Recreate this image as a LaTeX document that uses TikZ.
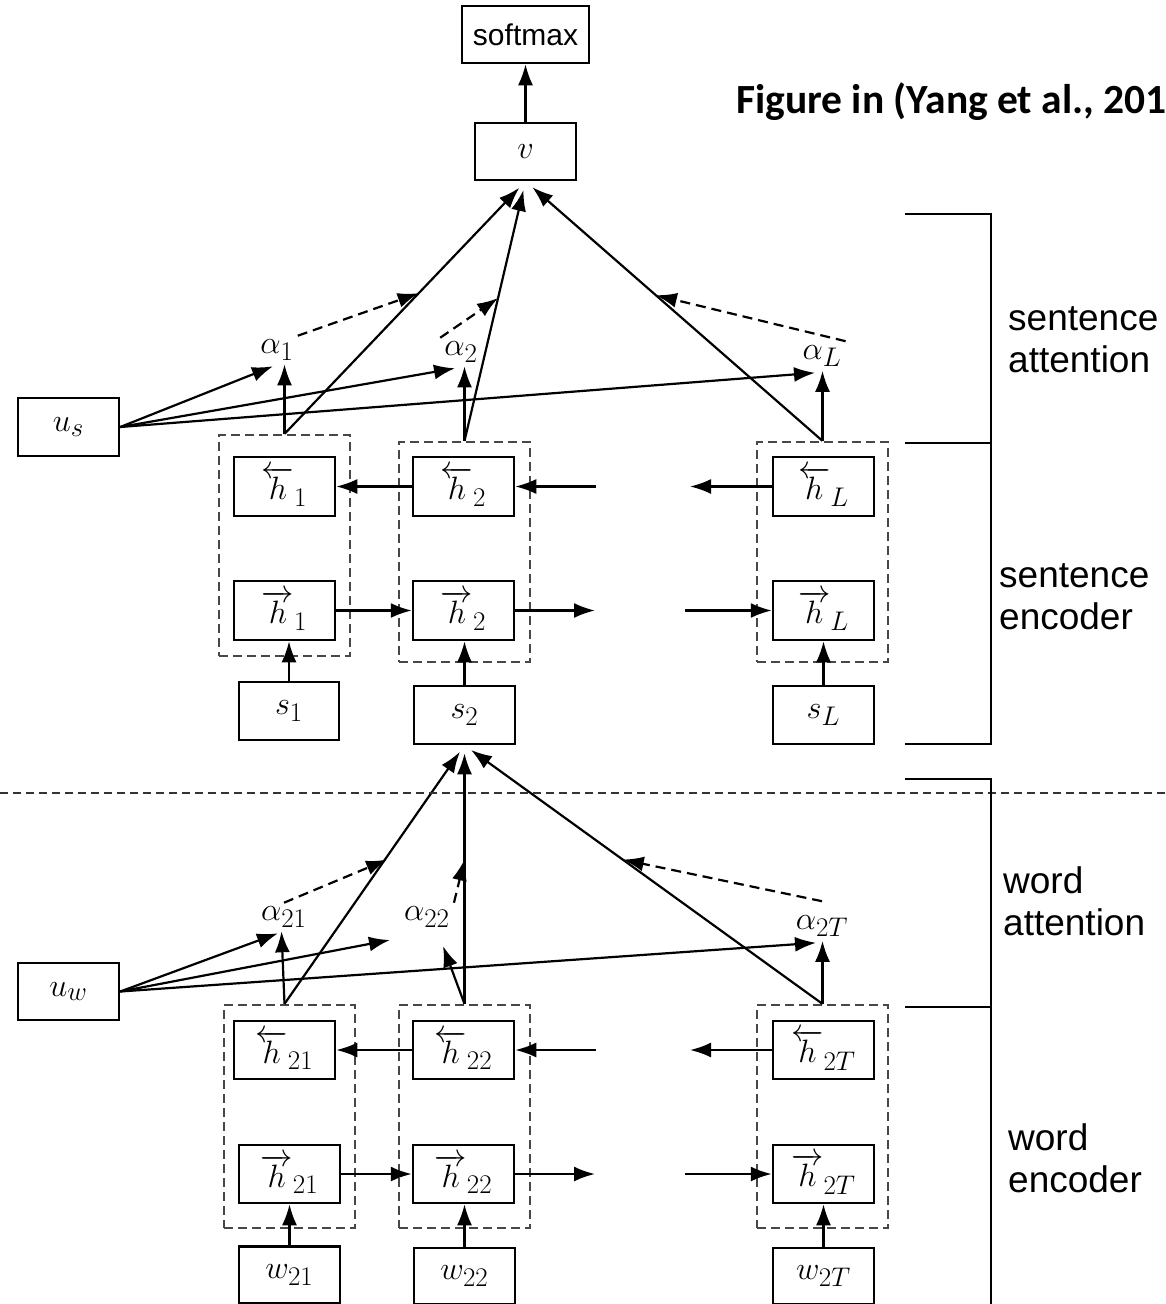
\RequirePackage{fix-cm}
\documentclass[tikz,border=0pt]{standalone}
\usepackage{graphicx}
\usepackage{fontspec}
\newfontfamily\lblfont{Liberation Sans}
\newfontfamily\ttlfont{Carlito}
\usetikzlibrary{arrows.meta,calc}
\newcommand\mth[1]{\scalebox{1.3}{\fontsize{24.88}{30}\selectfont$#1$}}
\begin{document}
\begin{tikzpicture}[x=1pt,y=-1pt,
  box/.style={draw, line width=2.5pt, minimum width=101pt, minimum height=58pt, inner sep=0pt},
  grp/.style={draw=black!72, dash pattern=on 9pt off 5pt, line width=2.2pt, minimum width=131pt, inner sep=0pt},
  arr/.style={-{Latex[length=21pt,width=15pt]}, line width=2.2pt},
  darr/.style={arr, dash pattern=on 10pt off 6pt},
  alab/.style={inner sep=4pt},
  lbl/.style={font=\lblfont\fontsize{37}{42}\selectfont, anchor=base west, inner sep=0pt},
  brk/.style={line width=1.8pt}
]
\useasboundingbox (0,0) rectangle (1165,1304);
\clip (0,0) rectangle (1165,1304);

% ---------- top ----------
\node[box, minimum width=127pt, minimum height=57pt, font=\lblfont\fontsize{30}{34}\selectfont] (sm) at (525.5,34.5) {softmax};
\node[box, minimum height=57pt] (v) at (525.5,151.5) {\mth{v}};
\node[anchor=base west, inner sep=0pt, font=\ttlfont\bfseries\fontsize{41.5}{48}\selectfont] (ttl) at (736,113) {Figure in (Yang et al., 201};
\draw[arr] (v.north) -- (sm.south);

% ---------- sentence level ----------
\node[box] (us) at (68.5,427) {\mth{u_s}};
\node[grp, minimum height=221pt] (d1) at (284.5,545.5) {};
\node[grp, minimum height=220pt] (d2) at (464.5,552) {};
\node[grp, minimum height=220pt] (dL) at (822.5,552) {};
\node[box, minimum height=59pt] (h1b) at (284.5,486.5) {\mth{\overleftarrow{h}_1}};
\node[box, minimum height=59pt] (h1f) at (284.5,610.5) {\mth{\overrightarrow{h}_1}};
\node[box, minimum height=59pt] (h2b) at (463.5,486.5) {\mth{\overleftarrow{h}_2}};
\node[box, minimum height=59pt] (h2f) at (463.5,610.5) {\mth{\overrightarrow{h}_2}};
\node[box, minimum height=59pt] (hLb) at (823.5,486.5) {\mth{\overleftarrow{h}_L}};
\node[box, minimum height=59pt] (hLf) at (823.5,610.5) {\mth{\overrightarrow{h}_L}};
\node[box, minimum width=100pt] (s1) at (289,711) {\mth{s_1}};
\node[box] (s2) at (464.5,715) {\mth{s_2}};
\node[box] (sL) at (823.5,715) {\mth{s_L}};
\node[alab] (a1) at (277,350) {\mth{\alpha_1}};
\node[alab] (a2) at (461,352) {\mth{\alpha_2}};
\node[alab] (aL) at (822,356) {\mth{\alpha_L}};

\coordinate (fs1) at (595,610.5);
\coordinate (fs2) at (685,610.5);
\coordinate (bs1) at (596,486.5);
\coordinate (bs2) at (690,486.5);

\draw[arr] (s1.north) -- (s1.north |- h1f.south);
\draw[arr] (s2.north) -- (s2.north |- h2f.south);
\draw[arr] (sL.north) -- (hLf.south);
\draw[arr] (h1f.east) -- (h2f.west);
\draw[arr] (h2f.east) -- (fs1);
\draw[arr] (fs2) -- (hLf.west);
\draw[arr] (h2b.west) -- (h1b.east);
\draw[arr] (bs1) -- (h2b.east);
\draw[arr] (hLb.west) -- (bs2);

\draw[arr] (d1.north) -- (d1.north |- a1.south);
\draw[arr] (d2.north) -- (d2.north |- a2.south);
\draw[arr] (dL.north) -- (dL.north |- aL.south);
\draw[arr, shorten >=9pt] (d1.north) -- (v.south);
\draw[arr, shorten >=9pt] (d2.north) -- (v.south);
\draw[arr, shorten >=9pt] (dL.north) -- (v.south);
\coordinate (m1) at ($(d1.north)!0.557!(v.south)$);
\coordinate (m2) at ($(d2.north)!0.55!(v.south)$);
\coordinate (mL) at ($(dL.north)!0.561!(v.south)$);
\draw[darr] (a1.north east) -- (m1);
\draw[darr] (a2.north west) -- (m2);
\draw[darr] (aL.north east) -- (mL);
\draw[arr] (us.east) -- ($(a1.south)+(-4,2)$);
\draw[arr] (us.east) -- ($(a2.south)+(-6,2)$);
\draw[arr] (us.east) -- ($(aL.south)+(-7,2)$);

% ---------- word level ----------
\node[box, minimum height=57pt] (uw) at (68.5,991.5) {\mth{u_w}};
\node[grp, minimum height=223pt] (e1) at (289.5,1116.5) {};
\node[grp, minimum height=223pt] (e2) at (464.5,1116.5) {};
\node[grp, minimum height=223pt] (eT) at (822.5,1116.5) {};
\node[box] (h21b) at (284.5,1050) {\mth{\overleftarrow{h}_{21}}};
\node[box] (h21f) at (289.5,1174) {\mth{\overrightarrow{h}_{21}}};
\node[box] (h22b) at (463.5,1050) {\mth{\overleftarrow{h}_{22}}};
\node[box] (h22f) at (463.5,1174) {\mth{\overrightarrow{h}_{22}}};
\node[box] (h2Tb) at (823.5,1050) {\mth{\overleftarrow{h}_{2T}}};
\node[box] (h2Tf) at (823.5,1174) {\mth{\overrightarrow{h}_{2T}}};
\node[box, minimum height=57pt] (w21) at (289.5,1275) {\mth{w_{21}}};
\node[box, minimum height=56pt] (w22) at (464.5,1276) {\mth{w_{22}}};
\node[box, minimum height=56pt] (w2T) at (823.5,1276) {\mth{w_{2T}}};
\node[alab] (a21) at (284,917) {\mth{\alpha_{21}}};
\node[alab] (a22) at (427,917) {\mth{\alpha_{22}}};
\node[alab] (a2T) at (822,926) {\mth{\alpha_{2T}}};

\coordinate (fw1) at (595,1174);
\coordinate (fw2) at (685,1174);
\coordinate (bw1) at (596,1050);
\coordinate (bw2) at (690,1050);
\coordinate (uwmid) at (390,940);
\coordinate (a22in) at (443,946);

\draw[arr] (w21.north) -- (h21f.south);
\draw[arr] (w22.north) -- (w22.north |- h22f.south);
\draw[arr] (w2T.north) -- (h2Tf.south);
\draw[arr] (h21f.east) -- (h22f.west);
\draw[arr] (h22f.east) -- (fw1);
\draw[arr] (fw2) -- (h2Tf.west);
\draw[arr] (h22b.west) -- (h21b.east);
\draw[arr] (bw1) -- (h22b.east);
\draw[arr] (h2Tb.west) -- (bw2);

\draw[arr] ($(e1.north)+(-5,0)$) -- ($(e1.north |- a21.south)+(-8,0)$);
\draw[arr] (e2.north) -- (a22in);
\draw[arr] (eT.north) -- (eT.north |- a2T.south);
\draw[arr, shorten >=8pt] ($(e1.north)+(-5,0)$) -- (s2.south);
\draw[arr, shorten >=8pt] (e2.north) -- (s2.south);
\draw[arr, shorten >=8pt] (eT.north) -- (s2.south);
\coordinate (n1) at ($(e1.north)!0.558!(s2.south)$);
\coordinate (n2) at ($(e2.north)!0.558!(s2.south)$);
\coordinate (nT) at ($(eT.north)!0.558!(s2.south)$);
\draw[darr] (a21.north) -- (n1);
\draw[darr] (a22.north east) -- (n2);
\draw[darr] ($(a2T.north)+(0,-10)$) -- (nT);
\draw[arr] (uw.east) -- ($(a21.south)+(-6,2)$);
\draw[arr] (uw.east) -- (uwmid);
\draw[arr] (uw.east) -- ($(a2T.south)+(-6,2)$);

% ---------- separator ----------
\draw[black!80, line width=1.3pt, dash pattern=on 8pt off 5pt] (0,793) -- (1165,793);

% ---------- brackets ----------
\draw[brk] (905,214) -- (991,214) -- (991,744) -- (905,744);
\draw[brk] (905,443) -- (991,443);
\draw[line width=2.8pt] (991,455) -- (991,505);
\draw[brk] (905,779) -- (991,779) -- (991,1304);
\draw[brk] (905,1007) -- (991,1007);
\draw[line width=2.8pt] (991,1025) -- (991,1075);

\node[lbl] (t1) at (1008,330) {sentence};
\node[lbl] (t2) at (1008,372) {attention};
\node[lbl] (t3) at (999,587) {sentence};
\node[lbl] (t4) at (999,629) {encoder};
\node[lbl] (t5) at (1003,893) {word};
\node[lbl] (t6) at (1003,935) {attention};
\node[lbl] (t7) at (1008,1150) {word};
\node[lbl] (t8) at (1008,1192) {encoder};
\end{tikzpicture}
\end{document}
